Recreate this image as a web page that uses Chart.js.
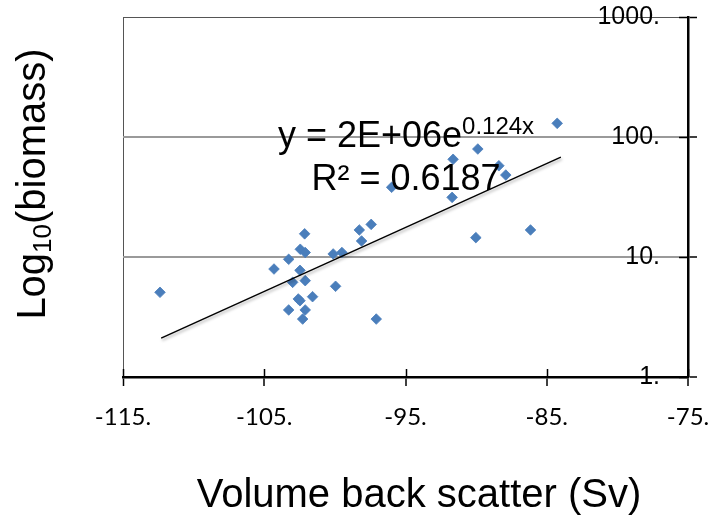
<!DOCTYPE html>
<html>
<head>
<meta charset="utf-8">
<script src="https://cdn.jsdelivr.net/npm/chart.js@4.4.1/dist/chart.umd.min.js"></script>
<style>
  html, body { margin: 0; padding: 0; background: #ffffff; }
  #wrap { width: 711px; height: 516px; }
</style>
</head>
<body>
<div id="wrap"><canvas id="c" width="711" height="516"></canvas></div>
<script>
// ---- data ----
const sampleSv = [-112.38, -104.31, -103.27, -102.14, -102.45, -102.10, -102.47, -102.99, -102.10, -102.59,
                  -102.47, -101.58, -103.27, -102.10, -102.28, -100.12, -99.50, -99.95, -98.27, -98.11,
                  -97.43, -97.07, -90.02, -86.15, -84.26, -89.88, -91.63, -88.39, -87.90, -91.70, -95.98];
const sampleBiomass = [5.08, 7.94, 9.57, 15.6, 11.6, 10.9, 7.74, 6.15, 6.35, 4.47,
                       4.32, 4.67, 3.62, 3.62, 3.04, 10.6, 10.9, 5.70, 16.8, 13.6,
                       18.7, 3.04, 14.5, 16.8, 130, 79.4, 65.2, 57.6, 48.2, 31.4, 38.1];
const trendSv = [-112.3, -84.0];
const trendBiomass = [2.11, 68.0];
const xTickValues = [-115, -105, -95, -85, -75];
const xTickLabels = ['-115.', '-105.', '-95.', '-85.', '-75.'];
const yTickValues = [1, 10, 100, 1000];
const yTickLabels = ['1.', '10.', '100.', '1000.'];
const eqMain = 'y = 2E+06e';
const eqExp = '0.124x';
const r2Text = 'R\u00B2 = 0.6187';
const xTitle = 'Volume back scatter (Sv)';
const yTitleA = 'Log';
const yTitleSub = '10';
const yTitleB = '(biomass)';

const scatterPts = sampleSv.map((x, i) => ({ x: x, y: sampleBiomass[i] }));
const trendPts = trendSv.map((x, i) => ({ x: x, y: trendBiomass[i] }));

const ARIAL = '"Liberation Sans", Arial, sans-serif';

function zeroPad(s) { s.paddingLeft = 0; s.paddingRight = 0; s.paddingTop = 0; s.paddingBottom = 0; }

const decor = {
  id: 'decor',
  beforeDatasetDraw(chart, args) {
    if (args.index === 1) {
      const ctx = chart.ctx;
      ctx.save();
      ctx.shadowColor = 'rgba(0,0,0,0.35)';
      ctx.shadowBlur = 3;
      ctx.shadowOffsetX = 1;
      ctx.shadowOffsetY = 2;
    }
  },
  afterDatasetDraw(chart, args) {
    if (args.index === 1) chart.ctx.restore();
  },
  afterDraw(chart) {
    const ctx = chart.ctx;
    const xs = chart.scales.x, ys = chart.scales.y;
    const area = chart.chartArea;
    ctx.save();
    // inner halves of the tick marks
    ctx.strokeStyle = '#000';
    ctx.lineWidth = 1.5;
    xTickValues.forEach(v => {
      const px = Math.round(xs.getPixelForValue(v)) + 0.5;
      ctx.beginPath(); ctx.moveTo(px, area.bottom - 8); ctx.lineTo(px, area.bottom); ctx.stroke();
    });
    yTickValues.forEach(v => {
      const py = Math.round(ys.getPixelForValue(v)) + 0.5;
      ctx.beginPath(); ctx.moveTo(area.right - 9, py); ctx.lineTo(area.right, py); ctx.stroke();
    });

    ctx.fillStyle = '#000';
    ctx.textBaseline = 'alphabetic';
    ctx.textAlign = 'left';
    // equation
    const cx = 406;
    ctx.font = '36px ' + ARIAL;
    const wMain = ctx.measureText(eqMain).width;
    ctx.font = '24px ' + ARIAL;
    const wExp = ctx.measureText(eqExp).width;
    let sx = cx - (wMain + wExp) / 2;
    ctx.font = '36px ' + ARIAL;
    ctx.fillText(eqMain, sx, 147);
    ctx.font = '24px ' + ARIAL;
    ctx.fillText(eqExp, sx + wMain, 134);
    ctx.font = '36px ' + ARIAL;
    const wR = ctx.measureText(r2Text).width;
    ctx.fillText(r2Text, cx - wR / 2, 190);

    // x title
    ctx.font = '40px ' + ARIAL;
    ctx.textAlign = 'center';
    ctx.fillText(xTitle, 419, 507);

    // y title (rotated, with subscript)
    ctx.translate(45, 184);
    ctx.rotate(-Math.PI / 2);
    ctx.textAlign = 'left';
    ctx.font = '40px ' + ARIAL;
    const wA = ctx.measureText(yTitleA).width;
    const wB = ctx.measureText(yTitleB).width;
    ctx.font = '26px ' + ARIAL;
    const wS = ctx.measureText(yTitleSub).width;
    let tx = -(wA + wS + wB) / 2;
    ctx.font = '40px ' + ARIAL;
    ctx.fillText(yTitleA, tx, 0);
    ctx.font = '26px ' + ARIAL;
    ctx.fillText(yTitleSub, tx + wA, 6);
    ctx.font = '40px ' + ARIAL;
    ctx.fillText(yTitleB, tx + wA + wS, 0);
    ctx.restore();
  }
};

new Chart(document.getElementById('c'), {
  type: 'scatter',
  data: {
    datasets: [
      {
        label: 'samples',
        data: scatterPts,
        pointStyle: 'rectRot',
        radius: 5.3,
        hoverRadius: 5.3,
        backgroundColor: '#4A7EBB',
        borderColor: '#4A7EBB',
        borderWidth: 0.8,
        order: 2
      },
      {
        label: 'trend',
        data: trendPts,
        showLine: true,
        borderColor: '#000',
        borderWidth: 1.4,
        pointRadius: 0,
        fill: false,
        order: 1
      }
    ]
  },
  options: {
    responsive: false,
    animation: false,
    devicePixelRatio: 1,
    layout: { padding: { left: 123, top: 17, right: 0, bottom: 0 } },
    plugins: { legend: { display: false }, tooltip: { enabled: false } },
    scales: {
      x: {
        type: 'linear',
        min: -115, max: -75,
        afterBuildTicks: s => { s.ticks = xTickValues.map(v => ({ value: v })); },
        afterFit: s => { s.height = 139; zeroPad(s); },
        ticks: {
          callback: (v, i) => xTickLabels[i],
          font: { family: 'Lato', size: 24 },
          color: '#000',
          padding: 17,
          maxRotation: 0,
          autoSkip: false
        },
        grid: {
          drawOnChartArea: true,
          color: c => c.index === 0 ? '#555555' : 'rgba(0,0,0,0)',
          lineWidth: c => c.index === 0 ? 1 : 0,
          drawTicks: true,
          tickLength: 9,
          tickColor: '#000',
          tickWidth: 1.5
        },
        border: { display: true, color: '#000', width: 2.5 }
      },
      y: {
        type: 'logarithmic',
        position: 'right',
        min: 1, max: 1000,
        afterBuildTicks: s => { s.ticks = yTickValues.map(v => ({ value: v })); },
        afterFit: s => { s.width = 23; zeroPad(s); },
        ticks: {
          callback: (v, i) => yTickLabels[i],
          font: { family: '"Liberation Sans"', size: 25 },
          color: '#000',
          mirror: true,
          padding: -28,
          autoSkip: false
        },
        grid: {
          color: c => c.index === 3 ? '#555555' : '#9a9a9a',
          lineWidth: c => c.index === 3 ? 1 : (c.index === 0 ? 0 : 2),
          drawTicks: true,
          tickLength: 9,
          tickColor: '#000',
          tickWidth: 1.5
        },
        border: { display: true, color: '#000', width: 2.5 }
      }
    }
  },
  plugins: [decor]
});
</script>
</body>
</html>
